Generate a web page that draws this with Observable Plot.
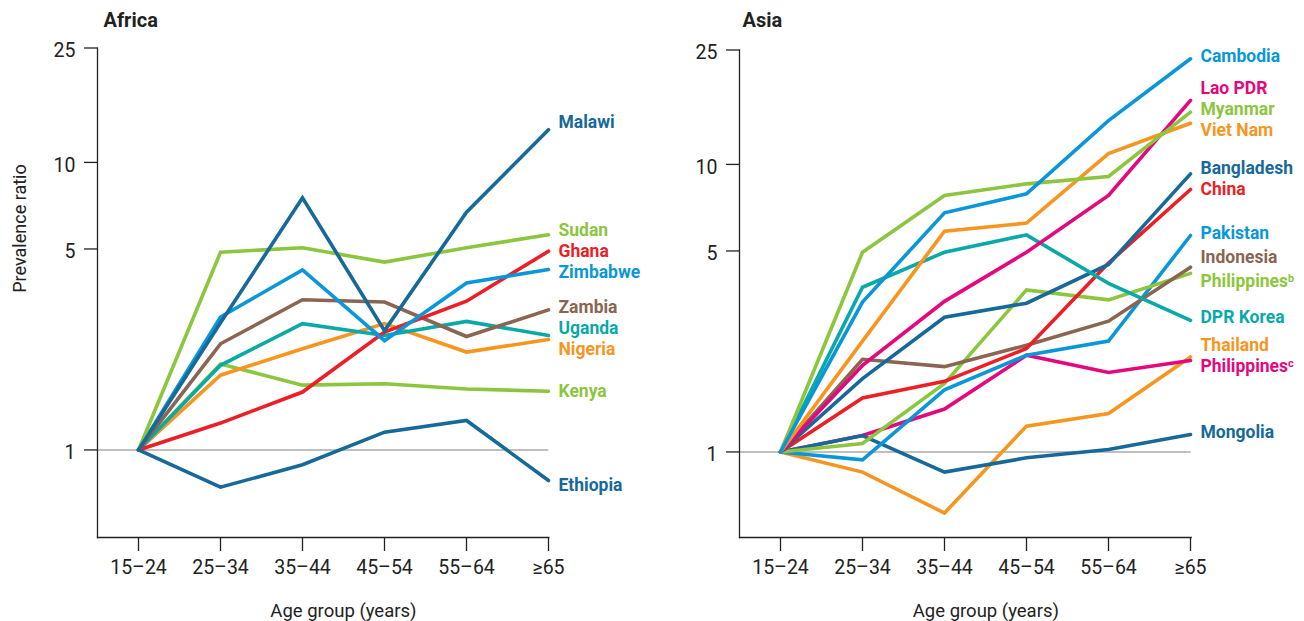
<!DOCTYPE html>
<html><head><meta charset="utf-8">
<script src="https://cdn.jsdelivr.net/npm/d3@7"></script>
<script src="https://cdn.jsdelivr.net/npm/@observablehq/plot@0.6"></script>
<style>
body{margin:0;background:#fff;font-family:Roboto,sans-serif;}
#wrap{position:relative;width:1304px;height:621px;overflow:hidden;}
#africa{position:absolute;left:0;top:0;}
#asia{position:absolute;left:652px;top:0;}
</style></head><body>
<div id="wrap"><div id="africa"></div><div id="asia"></div></div>
<script>
// ---- data ----
const ages = ["15–24", "25–34", "35–44", "45–54", "55–64", "≥65"];
const yTicks = [1, 5, 10, 25];

const africaCountries = ["Kenya", "Nigeria", "Uganda", "Zambia", "Ghana", "Zimbabwe", "Sudan", "Ethiopia", "Malawi"];
const africaValues = [
  [1, 1.99, 1.68, 1.70, 1.63, 1.60],   // Kenya
  [1, 1.82, 2.25, 2.75, 2.19, 2.42],   // Nigeria
  [1, 1.97, 2.75, 2.50, 2.80, 2.50],   // Uganda
  [1, 2.34, 3.33, 3.27, 2.48, 3.07],   // Zambia
  [1, 1.24, 1.59, 2.57, 3.29, 4.91],   // Ghana
  [1, 2.90, 4.23, 2.40, 3.81, 4.24],   // Zimbabwe
  [1, 4.87, 5.05, 4.50, 5.05, 5.60],   // Sudan
  [1, 0.742, 0.888, 1.153, 1.266, 0.783], // Ethiopia
  [1, 2.77, 7.53, 2.60, 6.71, 13.0]    // Malawi
];

const asiaCountries = ["Thailand", "Philippines^c", "Mongolia", "Pakistan", "Philippines^b", "Indonesia", "China", "Bangladesh", "DPR Korea", "Lao PDR", "Viet Nam", "Myanmar", "Cambodia"];
const asiaValues = [
  [1, 0.851, 0.613, 1.23, 1.36, 2.14],  // Thailand
  [1, 1.14, 1.41, 2.17, 1.89, 2.08],    // Philippines c
  [1, 1.14, 0.851, 0.954, 1.02, 1.15],  // Mongolia
  [1, 0.939, 1.645, 2.17, 2.43, 5.66],  // Pakistan
  [1, 1.07, 1.73, 3.66, 3.38, 4.18],    // Philippines b
  [1, 2.10, 1.98, 2.35, 2.85, 4.39],    // Indonesia
  [1, 1.54, 1.76, 2.29, 4.54, 8.18],    // China
  [1, 1.80, 2.94, 3.29, 4.49, 9.27],    // Bangladesh
  [1, 3.74, 4.95, 5.69, 3.86, 2.87],    // DPR Korea
  [1, 2.00, 3.34, 4.95, 7.80, 16.7],    // Lao PDR
  [1, 2.43, 5.86, 6.25, 10.9, 13.9],    // Viet Nam
  [1, 4.95, 7.80, 8.56, 9.08, 15.2],    // Myanmar
  [1, 3.32, 6.79, 7.90, 14.2, 23.3]     // Cambodia
];

// ---- styles ----
const C = {dark:"#17699a", light:"#0a97d9", green:"#8cc63e", red:"#ec1f27", brown:"#8a6551", teal:"#0aa9a8", orange:"#f6961f", magenta:"#e4087e"};
const colorOf = {
  "Malawi":C.dark, "Ethiopia":C.dark, "Sudan":C.green, "Kenya":C.green, "Ghana":C.red, "Zimbabwe":C.light,
  "Zambia":C.brown, "Uganda":C.teal, "Nigeria":C.orange,
  "Cambodia":C.light, "Pakistan":C.light, "Lao PDR":C.magenta, "Philippines^c":C.magenta, "Myanmar":C.green,
  "Philippines^b":C.green, "Viet Nam":C.orange, "Thailand":C.orange, "Bangladesh":C.dark, "Mongolia":C.dark,
  "China":C.red, "Indonesia":C.brown, "DPR Korea":C.teal
};
const labelNudge = {"Malawi": -7, "Ethiopia": 5, "Philippines^b": 3};
const FONT = "Roboto, 'Noto Sans', sans-serif";

function dodge(targets, gap) {
  const order = targets.map((t, i) => i).sort((a, b) => targets[a] - targets[b]);
  const stack = [];
  for (const i of order) {
    stack.push({idx:[i], start: targets[i]});
    while (stack.length > 1) {
      const b = stack[stack.length - 1], a = stack[stack.length - 2];
      if (a.start + a.idx.length * gap > b.start) {
        const idx = a.idx.concat(b.idx);
        const start = d3.mean(idx, (k, j) => targets[k] - j * gap);
        stack.pop(); stack.pop();
        stack.push({idx, start});
      } else break;
    }
  }
  const pos = new Array(targets.length);
  for (const g of stack) g.idx.forEach((k, j) => pos[k] = g.start + j * gap);
  return pos;
}

function panel({title, countries, values, width, marginLeft, xRange, yRange, bottom, yLabel, titleDx, labelBias}) {
  const rows = countries.flatMap((c, i) => ages.map((a, j) => ({country: c, age: a, value: values[i][j]})));
  const yDomain = [0.5, 25];
  const ys = Plot.scale({y: {type: "log", domain: yDomain, range: yRange}});
  const last = values.map(v => v[v.length - 1]);
  const targets = last.map(v => ys.apply(v));
  const pos = dodge(targets, 21);
  const marginRight = width - xRange[1];
  const frameCenter = (marginLeft + xRange[1]) / 2;
  const dataCenter = (xRange[0] + xRange[1]) / 2;
  const labelMarks = countries.map((c, i) => Plot.text([{age: ages[ages.length - 1], value: last[i]}], {
    x: "age", y: "value", text: () => c, dx: 10, dy: pos[i] - targets[i] + labelBias + (labelNudge[c] || 0),
    textAnchor: "start", fill: colorOf[c], fontWeight: "bold", fontSize: 17.5
  }));
  const marks = [
    Plot.ruleY([1], {stroke: "#aaaaaa", strokeWidth: 1.5}),
    Plot.frame({anchor: "left", stroke: "#222", strokeWidth: 1.3}),
    Plot.frame({anchor: "bottom", stroke: "#222", strokeWidth: 1.3}),
    Plot.axisY({ticks: yTicks, tickSize: 13, text: null, label: null, stroke: "#222", strokeWidth: 1.3}),
    Plot.axisY({ticks: yTicks, tickFormat: d => String(d), tickSize: 0, tickPadding: 22, fontSize: 19.5, label: null, dy: 3}),
    Plot.axisX({tickSize: 14, tickPadding: 9, fontSize: 19.5, label: null, stroke: "#222", strokeWidth: 1.3}),
    Plot.line(rows, {x: "age", y: "value", z: "country", stroke: d => colorOf[d.country], strokeWidth: 3.6, strokeLinejoin: "miter", strokeMiterlimit: 3}),
    ...labelMarks,
    Plot.text([title], {frameAnchor: "top-left", dx: titleDx, dy: 20 - yRange[1], textAnchor: "start", lineAnchor: "middle", fontWeight: "bold", fontSize: 20}),
    Plot.text(["Age group (years)"], {frameAnchor: "bottom", dx: dataCenter - frameCenter, dy: 611 - bottom, lineAnchor: "middle", fontSize: 18.5})
  ];
  if (yLabel) marks.push(Plot.text([yLabel], {frameAnchor: "left", rotate: -90, dx: 20 - marginLeft, lineAnchor: "middle", fontSize: 18}));
  const svg = Plot.plot({
    width, height: 621, marginLeft, marginRight, marginTop: yRange[1], marginBottom: 621 - bottom,
    style: {fontFamily: FONT, color: "#222", background: "white", overflow: "visible"},
    x: {type: "point", domain: ages, range: xRange, padding: 0},
    y: {type: "log", domain: yDomain, range: yRange},
    marks
  });
  d3.select(svg).selectAll("text").each(function() {
    const t = this.textContent;
    if (t.includes("^")) {
      const [a, b] = t.split("^");
      this.textContent = a;
      d3.select(this).append("tspan").attr("dy", "-0.45em").attr("font-size", "0.62em").text(b);
    }
  });
  return svg;
}

document.getElementById("africa").append(panel({
  title: "Africa", countries: africaCountries, values: africaValues, width: 652,
  marginLeft: 97, xRange: [137.5, 548.3], yRange: [536, 47.5], bottom: 537, yLabel: "Prevalence ratio", titleDx: 6, labelBias: 0
}));
document.getElementById("asia").append(panel({
  title: "Asia", countries: asiaCountries, values: asiaValues, width: 652,
  marginLeft: 87, xRange: [128, 538.7], yRange: [538, 49.5], bottom: 537, yLabel: null, titleDx: 3, labelBias: -2.5
}));
</script>
</body></html>
